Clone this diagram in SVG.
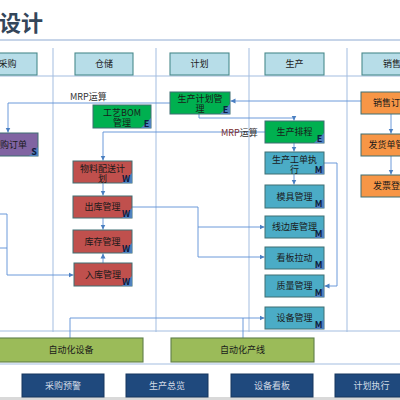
<svg xmlns="http://www.w3.org/2000/svg" width="400" height="400" viewBox="0 0 400 400">
<defs>
<style>
text{font-family:"Noto Sans CJK SC","Noto Sans",sans-serif;}
.t{font-size:9px;fill:#1a1a1a;text-anchor:middle;}
.hdr rect{fill:#b7dde8;stroke:#4a8a8c;stroke-width:1.1;}
.nd{stroke:#3f6f73;stroke-width:1;}
.g{fill:#00b050;}
.r{fill:#c0504d;}
.p{fill:#8064a2;}
.c{fill:#4bacc6;}
.o{fill:#f79646;}
.tri{fill:#4f81bd;}
.k{font-size:9px;font-weight:bold;fill:#0d1b3e;text-anchor:middle;}
.lane{stroke:#a3bde0;stroke-width:1;fill:none;}
.cn{stroke:#5b8ed6;stroke-width:0.9;fill:none;}
.bar{fill:#9bbb59;stroke:#5f7f4a;stroke-width:1.1;}
.bb{fill:#1f497d;stroke:#17375e;stroke-width:1;}
.bt{font-size:9px;fill:#d2dbe6;text-anchor:middle;}
.lbl{font-size:9px;fill:#333;}
</style>
<marker id="ah" markerWidth="6" markerHeight="6" refX="5" refY="3" orient="auto" markerUnits="userSpaceOnUse">
<path d="M0,0.5 L5,3 L0,5.5 Z" fill="#4a7fc1"/>
</marker>
</defs>
<rect width="400" height="400" fill="#ffffff"/>
<rect x="0" y="397" width="400" height="3" fill="#d9d9d9"/>
<text x="-1" y="31" style="font-size:22px;font-weight:bold;fill:#34465a;">设计</text>
<line x1="0" y1="40" x2="400" y2="40" stroke="#8eaad2" stroke-width="1"/>

<g id="lanes">
<line class="lane" x1="53" y1="48" x2="53" y2="332"/>
<line class="lane" x1="156" y1="48" x2="156" y2="332"/>
<line class="lane" x1="249" y1="48" x2="249" y2="332"/>
<line class="lane" x1="347" y1="48" x2="347" y2="332"/>
<line class="lane" x1="0" y1="76" x2="400" y2="76"/>
<line class="lane" x1="0" y1="331" x2="400" y2="331"/>
<line class="lane" x1="0" y1="364" x2="400" y2="364"/>
</g>

<g id="headers" class="hdr">
<g id="h-caigou"><rect x="-22" y="53" width="59" height="22"/><text class="t" x="7.5" y="67">采购</text></g>
<g id="h-cangchu"><rect x="75" y="53" width="58" height="22"/><text class="t" x="104" y="67">仓储</text></g>
<g id="h-jihua"><rect x="170" y="53" width="59" height="22"/><text class="t" x="199.5" y="67">计划</text></g>
<g id="h-shengchan"><rect x="265" y="53" width="59" height="22"/><text class="t" x="294.5" y="67">生产</text></g>
<g id="h-xiaoshou"><rect x="362" y="53" width="60" height="22"/><text class="t" x="392" y="67">销售</text></g>
</g>

<g id="connectors">
<path class="cn" d="M170,103 H8 V132.5" marker-end="url(#ah)"/>
<path class="cn" d="M361,101 H230.5" marker-end="url(#ah)"/>
<path class="cn" d="M199,114 V118 H294 V120.5" marker-end="url(#ah)"/>
<path class="cn" d="M265,132 H103 V160.5" marker-end="url(#ah)"/>
<path class="cn" d="M103,183 V195.5" marker-end="url(#ah)"/>
<path class="cn" d="M103,218 V229.5" marker-end="url(#ah)"/>
<path class="cn" d="M103,263 V253.5" marker-end="url(#ah)"/>
<path class="cn" d="M132,207 H198 V257 H264.5" marker-end="url(#ah)"/>
<path class="cn" d="M198,227 H264.5" marker-end="url(#ah)"/>
<path class="cn" d="M0,214 H7 V275 H73.5" marker-end="url(#ah)"/>
<path class="cn" d="M0,248 H7"/>
<path class="cn" d="M294,143 V151.5" marker-end="url(#ah)"/>
<path class="cn" d="M294,174 V184.5" marker-end="url(#ah)"/>
<path class="cn" d="M324,163 H337 V286 H324.5" marker-end="url(#ah)"/>
<path class="cn" d="M70,338 V318 H264.5" marker-end="url(#ah)"/>
<path class="cn" d="M243,338 V318"/>
<path class="cn" d="M391,114 V133.5" marker-end="url(#ah)"/>
<path class="cn" d="M391,156 V174.5" marker-end="url(#ah)"/>
<text class="lbl" x="70" y="100">MRP运算</text>
<text class="lbl" x="221" y="136"><tspan fill="#7a2b2b">MRP</tspan>运算</text>
</g>

<g id="n-caigoudingdan"><rect class="nd p" x="-21" y="133" width="59" height="23"/><polygon class="tri" points="38,147 38,156 29,156"/><text class="t" x="9" y="147.5">采购订单</text><text class="k" x="34" y="155">S</text></g>
<g id="n-gongyibom"><rect class="nd g" x="93" y="105" width="58" height="23"/><polygon class="tri" points="151,118 151,128 141,128"/><text class="t" x="122" y="115.5">工艺BOM</text><text class="t" x="122" y="125.5">管理</text><text class="k" x="146.5" y="127">E</text></g>
<g id="n-shengchanjihua"><rect class="nd g" x="170" y="92" width="60" height="22"/><polygon class="tri" points="230,104 230,114 220,114"/><text class="t" x="200" y="102">生产计划管</text><text class="t" x="200" y="112">理</text><text class="k" x="225.5" y="113">E</text></g>
<g id="n-wuliao"><rect class="nd r" x="73" y="161" width="59" height="22"/><polygon class="tri" points="132,173 132,183 122,183"/><text class="t" x="102.5" y="171.5">物料配送计</text><text class="t" x="102.5" y="181.5">划</text><text class="k" x="126" y="182">W</text></g>
<g id="n-chuku"><rect class="nd r" x="73" y="196" width="59" height="22"/><polygon class="tri" points="132,208 132,218 122,218"/><text class="t" x="102.5" y="210.3">出库管理</text><text class="k" x="126" y="217">W</text></g>
<g id="n-kucun"><rect class="nd r" x="73" y="230" width="59" height="23"/><polygon class="tri" points="132,243 132,253 122,253"/><text class="t" x="102.5" y="244.8">库存管理</text><text class="k" x="126" y="252">W</text></g>
<g id="n-ruku"><rect class="nd r" x="74" y="263" width="58" height="23"/><polygon class="tri" points="132,276 132,286 122,286"/><text class="t" x="103" y="277.8">入库管理</text><text class="k" x="126" y="285">W</text></g>
<g id="n-paicheng"><rect class="nd g" x="265" y="121" width="59" height="22"/><polygon class="tri" points="324,133 324,143 314,143"/><text class="t" x="294.5" y="135.3">生产排程</text><text class="k" x="319.5" y="142">E</text></g>
<g id="n-gongdan"><rect class="nd c" x="265" y="152" width="59" height="22"/><polygon class="tri" points="324,164 324,174 314,174"/><text class="t" x="294.5" y="162.5">生产工单执</text><text class="t" x="294.5" y="172.5">行</text><text class="k" x="318.5" y="173">M</text></g>
<g id="n-muju"><rect class="nd c" x="265" y="185" width="59" height="23"/><polygon class="tri" points="324,198 324,208 314,208"/><text class="t" x="294.5" y="199.8">模具管理</text><text class="k" x="318.5" y="207">M</text></g>
<g id="n-xianbianku"><rect class="nd c" x="265" y="216" width="59" height="22"/><polygon class="tri" points="324,228 324,238 314,238"/><text class="t" x="294.5" y="230.3">线边库管理</text><text class="k" x="318.5" y="237">M</text></g>
<g id="n-kanban"><rect class="nd c" x="265" y="247" width="59" height="22"/><polygon class="tri" points="324,259 324,269 314,269"/><text class="t" x="294.5" y="261.3">看板拉动</text><text class="k" x="318.5" y="268">M</text></g>
<g id="n-zhiliang"><rect class="nd c" x="265" y="275" width="59" height="22"/><polygon class="tri" points="324,287 324,297 314,297"/><text class="t" x="294.5" y="289.3">质量管理</text><text class="k" x="318.5" y="296">M</text></g>
<g id="n-shebei"><rect class="nd c" x="265" y="307" width="59" height="22"/><polygon class="tri" points="324,319 324,329 314,329"/><text class="t" x="294.5" y="321.3">设备管理</text><text class="k" x="318.5" y="328">M</text></g>
<g id="n-xiaoshoudingdan"><rect class="nd o" x="361" y="92" width="60" height="22"/><text class="t" x="391" y="106.3">销售订单</text></g>
<g id="n-fahuodan"><rect class="nd o" x="361" y="134" width="60" height="22"/><text class="t" x="391" y="148.3">发货单管理</text></g>
<g id="n-fapiao"><rect class="nd o" x="361" y="175" width="60" height="22"/><text class="t" x="391" y="189.3">发票登记</text></g>

<g id="n-zidonghuashebei"><rect class="bar" x="-1" y="338" width="144" height="24"/><text class="t" x="71" y="353.3">自动化设备</text></g>
<g id="n-zidonghuachanxian"><rect class="bar" x="171" y="338" width="143" height="24"/><text class="t" x="242.5" y="353.3">自动化产线</text></g>

<g id="b-caigouyujing"><rect class="bb" x="22" y="374" width="82" height="23"/><text class="bt" x="63" y="388.8">采购预警</text></g>
<g id="b-shengchanzonglan"><rect class="bb" x="126" y="374" width="82" height="23"/><text class="bt" x="167" y="388.8">生产总览</text></g>
<g id="b-shebeikanban"><rect class="bb" x="231" y="374" width="82" height="23"/><text class="bt" x="272" y="388.8">设备看板</text></g>
<g id="b-jihuazhixing"><rect class="bb" x="335" y="374" width="73" height="23"/><text class="bt" x="371.5" y="388.8">计划执行</text></g>
</svg>
